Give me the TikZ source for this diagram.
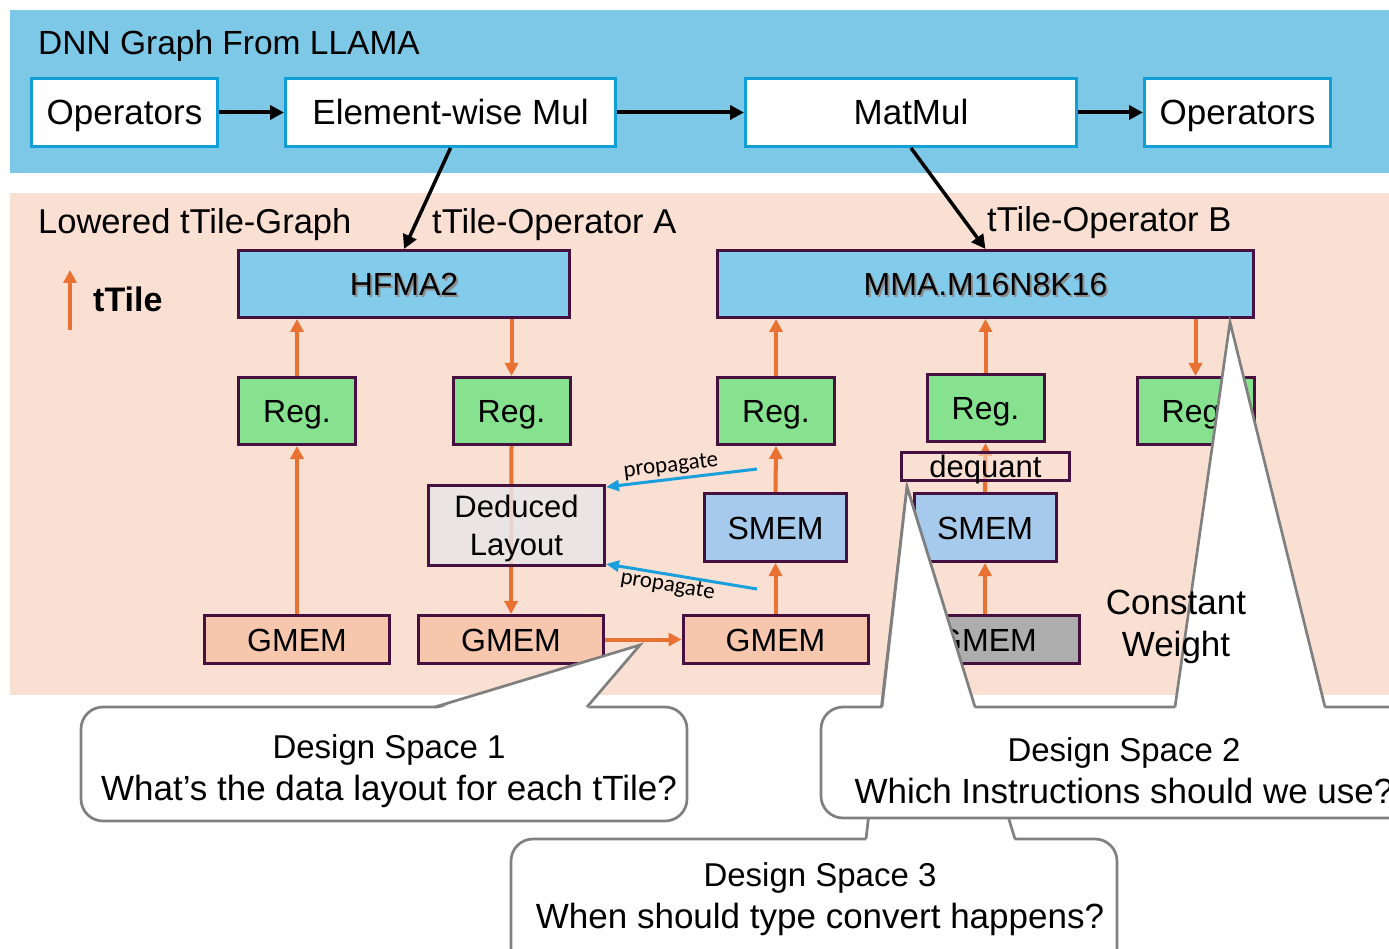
\documentclass[tikz,border=0pt]{standalone}
\usepackage{fontspec}
\setmainfont{Liberation Sans}
\newfontfamily\notefont{Carlito}
\usepackage{tikz}
\usetikzlibrary{arrows.meta, positioning, calc}
\definecolor{bandBlue}{RGB}{124,200,230}
\definecolor{bandPink}{RGB}{250,224,210}
\definecolor{edgeBlue}{RGB}{15,158,213}
\definecolor{boxEdge}{RGB}{70,16,64}
\definecolor{flowOrange}{RGB}{233,113,50}
\definecolor{opBlue}{RGB}{131,203,235}
\definecolor{regGreen}{RGB}{134,226,142}
\definecolor{smemBlue}{RGB}{166,202,236}
\definecolor{gmemPeach}{RGB}{246,198,173}
\definecolor{gmemGray}{RGB}{173,173,173}
\definecolor{layoutGray}{RGB}{232,230,232}
\definecolor{spreadBlue}{RGB}{25,160,220}
\definecolor{calloutGray}{RGB}{128,128,128}
\newcommand{\fsize}[1]{\fontsize{#1}{1.25\dimexpr#1pt\relax}\selectfont}
\newcommand{\dropshadowtext}[1]{\makebox[0pt][l]{\hspace{2pt}\raisebox{-2pt}{\textcolor{black!45}{#1}}}#1}
\newcommand{\bubblelines}[2]{#1\\{\fsize{35}#2}}

\begin{document}
\begin{tikzpicture}[x=1pt, y=-1pt,
    title/.style={anchor=base west, inner sep=0, font=\fsize{34.5}},
    graphop/.style={draw=edgeBlue, line width=3pt, fill=white, minimum height=68pt, inner sep=0,
                    text height=25pt, text depth=0pt, font=\fsize{35}},
    tilebox/.style={draw=boxEdge, line width=3pt, inner sep=0, text height=23pt, text depth=0pt, font=\fsize{32}},
    tileop/.style={tilebox, fill=opBlue, minimum height=67pt},
    regbox/.style={tilebox, fill=regGreen, minimum width=117pt, minimum height=67pt},
    smembox/.style={tilebox, fill=smemBlue, minimum width=142pt, minimum height=68pt},
    gmembox/.style={tilebox, fill=gmemPeach, minimum width=185pt, minimum height=48pt},
    link/.style={black, line width=4pt, -{Triangle[width=14pt,length=14pt]}},
    flow/.style={flowOrange, line width=4pt, -{Triangle[width=13pt,length=13pt]}},
    spread/.style={spreadBlue, line width=3pt, -{Triangle[width=11pt,length=13pt]}},
    note/.style={inner sep=2pt, text=black, font=\notefont\fsize{23}},
    callout/.style={draw=calloutGray, line width=2.7pt, fill=white, rounded corners=22pt},
    tailedge/.style={calloutGray, line width=2.7pt},
    bubbletext/.style={align=center, inner sep=0, font=\fontsize{33}{42}\selectfont}]
    \clip (0,0) rectangle (1389,949);

    % Bands
    \fill[bandBlue] (10,10) rectangle (1389,173);
    \fill[bandPink] (10,193) rectangle (1389,695);

    % DNN graph
    \node[title, font=\fsize{33.5}] (dnnTitle) at (38,55) {DNN Graph From LLAMA};
    \node[graphop, minimum width=186pt] (opIn) at (124.5,112.5) {Operators};
    \node[graphop, minimum width=330pt] (ewMul) at (450.5,112.5) {Element-wise Mul};
    \node[graphop, minimum width=331pt] (matMul) at (911,112.5) {MatMul};
    \node[graphop, minimum width=186pt] (opOut) at (1237.5,112.5) {Operators};
    \draw[link] (opIn) -- (ewMul);
    \draw[link] (ewMul) -- (matMul);
    \draw[link] (matMul) -- (opOut);

    % Lowered graph
    \node[title] (lowTitle) at (38,234) {Lowered tTile-Graph};
    \node[title] (opAName) at (432,234) {tTile-Operator A};
    \node[title] (opBName) at (987,232) {tTile-Operator B};

    \coordinate (legTail) at (70,330);
    \coordinate (legHead) at (70,270);
    \draw[flow] (legTail) -- (legHead);
    \node[anchor=west, inner sep=0, font=\fsize{34}\bfseries] (legText) at (93,299) {tTile};

    \node[tileop, minimum width=331pt] (hfma) at (404,284) {\dropshadowtext{HFMA2}};
    \node[tileop, minimum width=536pt] (mma) at (985.5,284) {\dropshadowtext{MMA.M16N8K16}};
    \draw[link, line width=3.5pt] (ewMul.south) -- (hfma.north);
    \draw[link, line width=3.5pt] (matMul.south) -- (mma.north);

    \node[regbox] (regA1) at (297,411) {Reg.};
    \node[regbox] (regA2) at (511.5,411) {Reg.};
    \node[regbox] (regB1) at (776,411) {Reg.};
    \node[regbox] (regB2) at (985.5,408) {Reg.};
    \node[regbox] (regB3) at (1195.5,411) {Reg.};

    \node[smembox] (smemB1) at (775.5,527.5) {SMEM};
    \node[smembox] (smemB2) at (985,527.5) {SMEM};

    \node[gmembox] (gmemA1) at (297,639.5) {GMEM};
    \node[gmembox] (gmemA2) at (511,639.5) {GMEM};
    \node[gmembox] (gmemB1) at (775.5,639.5) {GMEM};
    \node[gmembox, fill=gmemGray] (gmemB2) at (987,639.5) {GMEM};

    % tTile flow
    \draw[flow] (regA1.north) -- (regA1.north |- hfma.south);
    \draw[flow] (gmemA1.north) -- (regA1.south);
    \draw[flow] (hfma.south -| regA2.north) -- (regA2.north);
    \draw[flow] (regA2.south) -- (gmemA2.north);
    \draw[flow] (gmemA2.east) -- (gmemB1.west);
    \draw[flow] (regB1.north) -- (regB1.north |- mma.south);
    \draw[flow] (smemB1.north) -- (regB1.south);
    \draw[flow] (gmemB1.north) -- (smemB1.south);
    \draw[flow] (regB2.north) -- (regB2.north |- mma.south);
    \draw[flow] (smemB2.north) -- (regB2.south);
    \draw[flow] (smemB2.south |- gmemB2.north) -- (smemB2.south);
    \draw[flow] (mma.south -| regB3.north) -- (regB3.north);

    % boxes that let the flow show through
    \node[tilebox, fill=layoutGray, fill opacity=0.85, text opacity=1, minimum width=176pt, minimum height=80pt,
          align=center, text height=, font=\fontsize{31}{38}\selectfont] (deduced) at (516.5,525.5) {Deduced\\Layout};
    \node[tilebox, fill=bandPink, fill opacity=0.6, text opacity=1, minimum width=168pt, minimum height=28pt,
          text height=22pt, font=\fsize{31}] (dequant) at (985.5,466.5) {dequant};

    \coordinate (propUp) at (757,469);
    \coordinate (propDown) at (757,589);
    \draw[spread] (propUp) -- node[note, above, sloped, pos=0.56] (propUpText) {propagate} ([yshift=-3pt]deduced.north east);
    \draw[spread] (propDown) -- node[note, below, sloped, pos=0.58, inner sep=1pt] (propDownText) {propagate} ([yshift=3pt]deduced.south east);

    % Design space bubbles
    \filldraw[callout] (81,707) rectangle (687,821);
    \fill[white] (435,709.5) -- (640,645) -- (587,709.5) -- cycle;
    \draw[tailedge] (435,707) -- (640,645) -- (587,707);
    \node[bubbletext] (dsOne) at (389,771) {\bubblelines{Design Space 1}{What’s the data layout for each tTile?}};

    \filldraw[callout] (511,839) rectangle (1117,990);
    \fill[white] (866,841.5) -- (907,487) -- (1015,841.5) -- cycle;
    \draw[tailedge] (866,839) -- (907,487) -- (1015,839);
    \node[bubbletext] (dsThree) at (820,899) {\bubblelines{Design Space 3}{When should type convert happens?}};

    \filldraw[callout] (821,707) rectangle (1450,818);
    \fill[white] (882,709.5) -- (907,487) -- (975,709.5) -- cycle;
    \draw[tailedge] (882,707) -- (907,487) -- (975,707);
    \fill[white] (1175,709.5) -- (1230,322) -- (1325,709.5) -- cycle;
    \draw[tailedge] (1175,707) -- (1230,322) -- (1325,707);
    \node[bubbletext] (dsTwo) at (1124,771) {\bubblelines{Design Space 2}{Which Instructions should we use?}};

    \node[bubbletext, font=\fontsize{35}{42}\selectfont] (constW) at (1176,627) {Constant\\Weight};
\end{tikzpicture}
\end{document}
